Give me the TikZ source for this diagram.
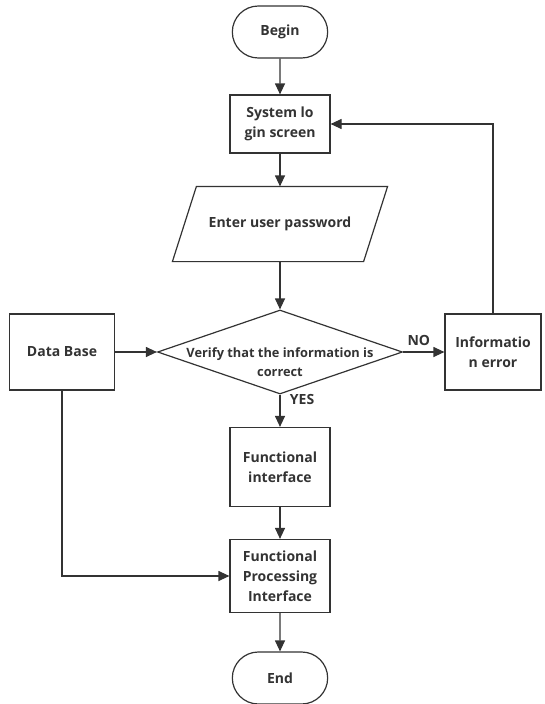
\documentclass[tikz,border=0pt]{standalone}
\usepackage{fontspec}
\setmainfont{Open Sans}
\usetikzlibrary{arrows.meta, positioning, shapes.geometric, shapes.misc}
\definecolor{linegray}{HTML}{333333}
\tikzset{
  chart/.style={draw, line width=1.2pt, font=\fontsize{14pt}{20pt}\selectfont\bfseries, align=center},
  terminal/.style={chart, rounded rectangle, minimum width=102pt, minimum height=52pt},
  process/.style={chart, rectangle, minimum width=100pt},
  inputbox/.style={chart, draw=none, minimum width=190pt, minimum height=74pt,
    append after command={\pgfextra{\draw[line width=1.2pt]
      ([xshift=12pt]\tikzlastnode.north west) -- ([xshift=12pt]\tikzlastnode.north east)
      -- ([xshift=-12pt]\tikzlastnode.south east) -- ([xshift=-12pt]\tikzlastnode.south west) -- cycle;}}},
  decision/.style={chart, diamond, minimum width=245pt, minimum height=84pt, inner sep=0pt},
}

\begin{document}
\begin{tikzpicture}[x=1pt, y=-1pt, node distance=100pt, on grid, auto, color=linegray,
    >={Triangle[length=11pt, width=10pt]}, line width=1.2pt]
        \useasboundingbox (0,0) rectangle (544,704);
        \node[terminal](begin) at (280,32){Begin};
        \node[process, minimum height=58pt](login)[below=92pt of begin]{System lo\\gin screen};
        \node[inputbox](passwd)[below=100pt of login]{Enter user password};
        \node[decision, label={[chart, draw=none, font=\fontsize{12.8pt}{19pt}\selectfont\bfseries, yshift=-10pt]center:Verify that the information is\\correct}](verify)[below=128pt of passwd]{};
        \node[process, minimum height=79pt](funcif)[below=115pt of verify]{Functional\\interface};
        \node[process, minimum height=73pt](proc)[below=109pt of funcif]{Functional\\Processing\\Interface};
        \node[terminal](end)[below=102pt of proc]{End};
        \node[process, minimum width=105pt, minimum height=76pt](database)[left=218pt of verify]{Data Base};
        \node[process, minimum width=96pt, minimum height=76pt](error)[right=213pt of verify]{Informatio\\n error};
        \path[->, font=\fontsize{14pt}{16pt}\selectfont\bfseries]
        (begin)    edge (login)
        (login)    edge (passwd)
        (passwd)   edge (verify)
        (verify)   edge node[pos=0.15, right=6pt] {YES} (funcif)
                   edge node[pos=0.38, above=2pt] {NO} (error)
        (database) edge (verify)
        (funcif)   edge (proc)
        (proc)     edge (end);
        \draw[->] (database) |- (proc);
        \draw[->] (error) |- (login);
    \end{tikzpicture}
\end{document}
